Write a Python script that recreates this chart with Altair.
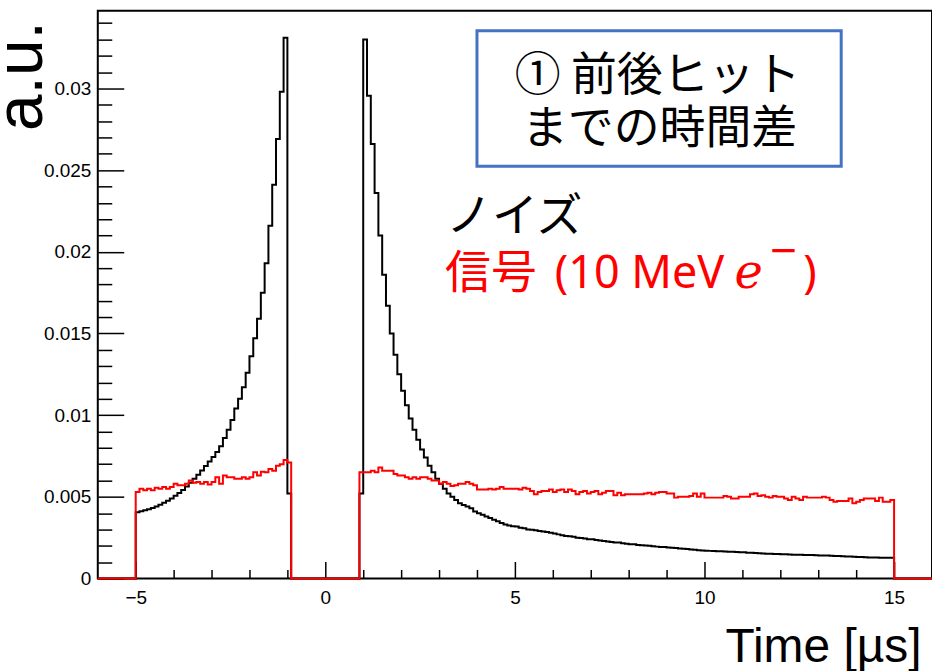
import altair as alt
import pandas as pd

# ---------------- data ----------------
BIN_START = -5.0          # first bin lower edge [µs]
BIN_WIDTH = 0.1           # bin width [µs]
GAP_BINS = 18             # empty bins between -0.9 and 0.9
X_DOMAIN = [-6, 16]
Y_DOMAIN = [0, 0.03476]

# noise (black), bins -5.0 ... -0.9
noise_before = [
    0.00406, 0.00411, 0.00417, 0.00424, 0.00432, 0.00441, 0.00451, 0.00463, 0.00476, 0.00490,
    0.00506, 0.00523, 0.00542, 0.00563, 0.00586, 0.00610, 0.00635, 0.00661, 0.00688, 0.00716,
    0.00744, 0.00774, 0.0081, 0.0086, 0.0091, 0.0097, 0.0104, 0.0110, 0.0117, 0.0126,
    0.0136, 0.0147, 0.0159, 0.0175, 0.0193, 0.0216, 0.0241, 0.0269, 0.0298, 0.0331,
    0.0052,
]
# noise (black), bins 0.9 ... 14.9
noise_after = [
    0.0052, 0.0330, 0.02955, 0.0266, 0.0236, 0.0210, 0.0186, 0.0167, 0.0150, 0.0137,
    0.0125, 0.0115, 0.0106, 0.0098, 0.0091, 0.0085, 0.0079, 0.0074, 0.0069, 0.0065,
    0.0061, 0.0058, 0.0055, 0.0052, 0.0050, 0.0048, 0.0046, 0.0045, 0.0044, 0.0043,
    0.0041, 0.0040, 0.0039, 0.0038, 0.0037, 0.0036, 0.0035, 0.0034, 0.0033, 0.00325,
    0.0032, 0.00318,
    0.0031, 0.00308, 0.0030, 0.00298, 0.00295, 0.0029, 0.00288, 0.00284, 0.0028,
    0.00275, 0.0027, 0.00265, 0.0026, 0.00258, 0.00255, 0.0025, 0.00248, 0.00245, 0.0024,
    0.0024, 0.00235, 0.00233, 0.0023, 0.00227, 0.00223, 0.0022, 0.0022, 0.00215, 0.00213,
    0.0021, 0.0021, 0.00205, 0.00204, 0.00202, 0.0020, 0.00197, 0.00195, 0.00193, 0.00192,
    0.0019, 0.00188, 0.00186, 0.00183, 0.00182, 0.0018, 0.00178, 0.00176, 0.00173, 0.00172,
    0.0017, 0.00169, 0.00168, 0.00167, 0.00166, 0.00165, 0.00164, 0.00163, 0.00162, 0.00161,
    0.0016, 0.00158, 0.00157, 0.00156, 0.00154, 0.00153, 0.00152, 0.00151, 0.0015, 0.0015,
    0.00149, 0.00148, 0.00147, 0.00146, 0.00146, 0.00145, 0.00144, 0.00143, 0.00143, 0.00142,
    0.00141, 0.0014, 0.0014, 0.00139, 0.00138, 0.00137, 0.00136, 0.00135, 0.00134, 0.00133,
    0.00132, 0.00131, 0.0013, 0.00129, 0.00128, 0.00128, 0.00127, 0.00127, 0.00127, 0.00127,
]
# signal (red), bins -5.0 ... -0.9
signal_before = [
    0.0053, 0.0055, 0.0054, 0.0055, 0.0054, 0.00556, 0.0055, 0.0056, 0.0055, 0.0056,
    0.0058, 0.0057, 0.0057, 0.0058, 0.0060, 0.00586, 0.0059, 0.0058, 0.0059, 0.00576,
    0.0059, 0.0062, 0.0058, 0.0063, 0.0062, 0.0062, 0.0061, 0.0061, 0.0062, 0.0061,
    0.0062, 0.0065, 0.0063, 0.00654, 0.0065, 0.0067, 0.0066, 0.0069, 0.0070, 0.00725,
    0.0071,
]
# signal (red), bins 0.9 ... 14.9
signal_after = [
    0.0065, 0.0065, 0.0065, 0.0066, 0.0065, 0.0068, 0.0066, 0.0066, 0.0066, 0.0064,
    0.0063, 0.0063, 0.0062, 0.0061, 0.0062, 0.0061, 0.0062, 0.0062, 0.0061, 0.0060,
    0.0060, 0.0058, 0.0059, 0.0058, 0.00566, 0.0057, 0.0058, 0.0058, 0.0059, 0.0058,
    0.0057, 0.00545, 0.00545, 0.00545, 0.0055, 0.00545, 0.0055, 0.0056, 0.0055, 0.0055,
    0.0055, 0.0055,
    0.00545, 0.00556, 0.0055, 0.00535, 0.00515, 0.0053, 0.00535, 0.00535, 0.00545, 0.0053,
    0.0054, 0.00545, 0.0053, 0.00545, 0.00535, 0.00515, 0.0053, 0.00535, 0.0052, 0.0053,
    0.00535, 0.00515, 0.00525, 0.00535, 0.00535, 0.0051, 0.00525,
    0.0051, 0.00515, 0.00515, 0.00515, 0.00515, 0.00515, 0.0052, 0.00525, 0.00515, 0.00525,
    0.0053, 0.0053, 0.0052, 0.0052, 0.00495, 0.0050, 0.0050, 0.0050, 0.00505, 0.0052,
    0.0050, 0.0052, 0.00495, 0.00495, 0.00495, 0.00495, 0.00495, 0.00505, 0.0050, 0.0049,
    0.0049, 0.0050, 0.0050, 0.0050, 0.00515, 0.0052, 0.00505, 0.0051, 0.0050, 0.00495,
    0.00505, 0.0050, 0.0050, 0.0049, 0.0048, 0.0050, 0.0049, 0.0048, 0.0050, 0.00495,
    0.00495, 0.00495, 0.00495, 0.0050, 0.00495, 0.0048, 0.0047, 0.00475, 0.00475, 0.00475,
    0.0049, 0.0046, 0.0047, 0.0048, 0.0049, 0.0049, 0.0049, 0.00475, 0.00495, 0.0047,
    0.0047, 0.0048,
]

x_major = [-5, 0, 5, 10, 15]
x_minor = [-4, -3, -2, -1, 1, 2, 3, 4, 6, 7, 8, 9, 11, 12, 13, 14]
y_major = [0, 0.005, 0.01, 0.015, 0.02, 0.025, 0.03]
y_minor = [0.001, 0.002, 0.003, 0.004, 0.006, 0.007, 0.008, 0.009,
           0.011, 0.012, 0.013, 0.014, 0.016, 0.017, 0.018, 0.019,
           0.021, 0.022, 0.023, 0.024, 0.026, 0.027, 0.028, 0.029,
           0.031, 0.032, 0.033, 0.034]

box_lines = ["① 前後ヒット", "までの時間差"]
noise_label = "ノイズ"
signal_label_jp = "信号"
signal_label_en = "(10 MeV"

# ---------------- build histogram outlines ----------------
def outline(before, after):
    vals = list(before) + [0.0] * GAP_BINS + list(after)
    rows = [{"x": X_DOMAIN[0], "v": 0.0}]
    for i, v in enumerate(vals):
        rows.append({"x": round(BIN_START + BIN_WIDTH * i, 4), "v": v})
    rows.append({"x": round(BIN_START + BIN_WIDTH * len(vals), 4), "v": 0.0})
    rows.append({"x": X_DOMAIN[1], "v": 0.0})
    return pd.DataFrame(rows)

noise_df = outline(noise_before, noise_after)
signal_df = outline(signal_before, signal_after)

LEFT, TOP = 98, 10
W, H = 836, 569
SANS = "Liberation Sans"
JP = "Noto Sans CJK JP"

xs = alt.Scale(domain=X_DOMAIN, nice=False, zero=False)
ys = alt.Scale(domain=Y_DOMAIN, nice=False, zero=True)

# main axes (labels + titles)
main_x_axis = alt.Axis(orient="bottom", values=x_major, format="~g", ticks=False, tickSize=0,
                       domain=False, grid=False,
                       labelFont=SANS, labelFontSize=19, labelPadding=10, labelColor="black",
                       labelFlush=False, labelOverlap=False,
                       title="Time [µs]", titleFont=SANS, titleFontSize=48, titleFontWeight="normal",
                       titleColor="black", titleX=825, titleY=83, titleAlign="right",
                       titleBaseline="alphabetic", titleAngle=0)
main_y_axis = alt.Axis(orient="left", values=y_major, format="~g", ticks=False, tickSize=0,
                       domain=False, grid=False,
                       labelFont=SANS, labelFontSize=19, labelPadding=7, labelColor="black",
                       labelFlush=False, labelOverlap=False,
                       title="a.u.", titleFont=SANS, titleFontSize=66, titleFontWeight="normal",
                       titleColor="black", titleAngle=270, titleX=-56, titleY=10,
                       titleAlign="right", titleBaseline="alphabetic")

def tick_axis(orient, values, size):
    return alt.Axis(orient=orient, values=values, offset=-size, tickSize=size, tickWidth=1.5,
                    tickColor="black", labels=False, domain=False, grid=False, title="")

noise_line = alt.Chart(noise_df).mark_line(
    interpolate="step-after", color="#000000", strokeWidth=2
).encode(
    x=alt.X("x:Q", scale=xs, axis=main_x_axis),
    y=alt.Y("v:Q", scale=ys, axis=main_y_axis),
)

major_ticks = alt.Chart(noise_df).mark_line(opacity=0).encode(
    x=alt.X("x:Q", scale=xs, axis=tick_axis("bottom", x_major, 17)),
    y=alt.Y("v:Q", scale=ys, axis=tick_axis("left", y_major, 26)),
)
minor_ticks = alt.Chart(noise_df).mark_line(opacity=0).encode(
    x=alt.X("x:Q", scale=xs, axis=tick_axis("bottom", x_minor, 9)),
    y=alt.Y("v:Q", scale=ys, axis=tick_axis("left", y_minor, 14)),
)

signal_line = alt.Chart(signal_df).mark_line(
    interpolate="step-after", color="#ff0000", strokeWidth=2
).encode(
    x=alt.X("x:Q", scale=xs, axis=None),
    y=alt.Y("v:Q", scale=ys, axis=None),
)

one = pd.DataFrame({"k": [0]})

box = alt.Chart(one).mark_rect(fill="white", stroke="#4472C4", strokeWidth=3).encode(
    x=alt.value(478 - LEFT), x2=alt.value(843 - LEFT),
    y=alt.value(30 - TOP), y2=alt.value(166 - TOP),
)

def label(text, px, py, size, font, color="black", align="left", style="normal"):
    return alt.Chart(one).mark_text(
        text=text, font=font, fontSize=size, color=color, align=align,
        baseline="alphabetic", fontStyle=style
    ).encode(x=alt.value(px - LEFT), y=alt.value(py - TOP))

texts = [
    label(box_lines[0], 659, 89, 46, JP, align="center"),
    label(box_lines[1], 661, 143, 46, JP, align="center"),
    label(noise_label, 447, 231, 46, JP),
    label(signal_label_jp, 446, 288, 46, JP, color="#ff0000"),
    label(signal_label_en, 556, 288, 45, "Noto Sans", color="#ff0000"),
    label("e", 736, 288, 48, "DejaVu Serif", color="#ff0000", style="italic"),
    label("\u2212", 772, 266, 46, SANS, color="#ff0000"),
    label(")", 805, 288, 45, "Noto Sans", color="#ff0000"),
]

chart = alt.layer(
    major_ticks, minor_ticks, noise_line, signal_line, box, *texts
).resolve_axis(x="independent", y="independent").properties(
    width=W, height=H,
    autosize=alt.AutoSizeParams(type="none"),
    padding={"left": LEFT, "top": TOP, "right": 0, "bottom": 671 - TOP - H},
    background="white",
).configure_view(stroke="black", strokeWidth=2)

chart.save("out.html", embed_options={"renderer": "svg", "actions": False})
